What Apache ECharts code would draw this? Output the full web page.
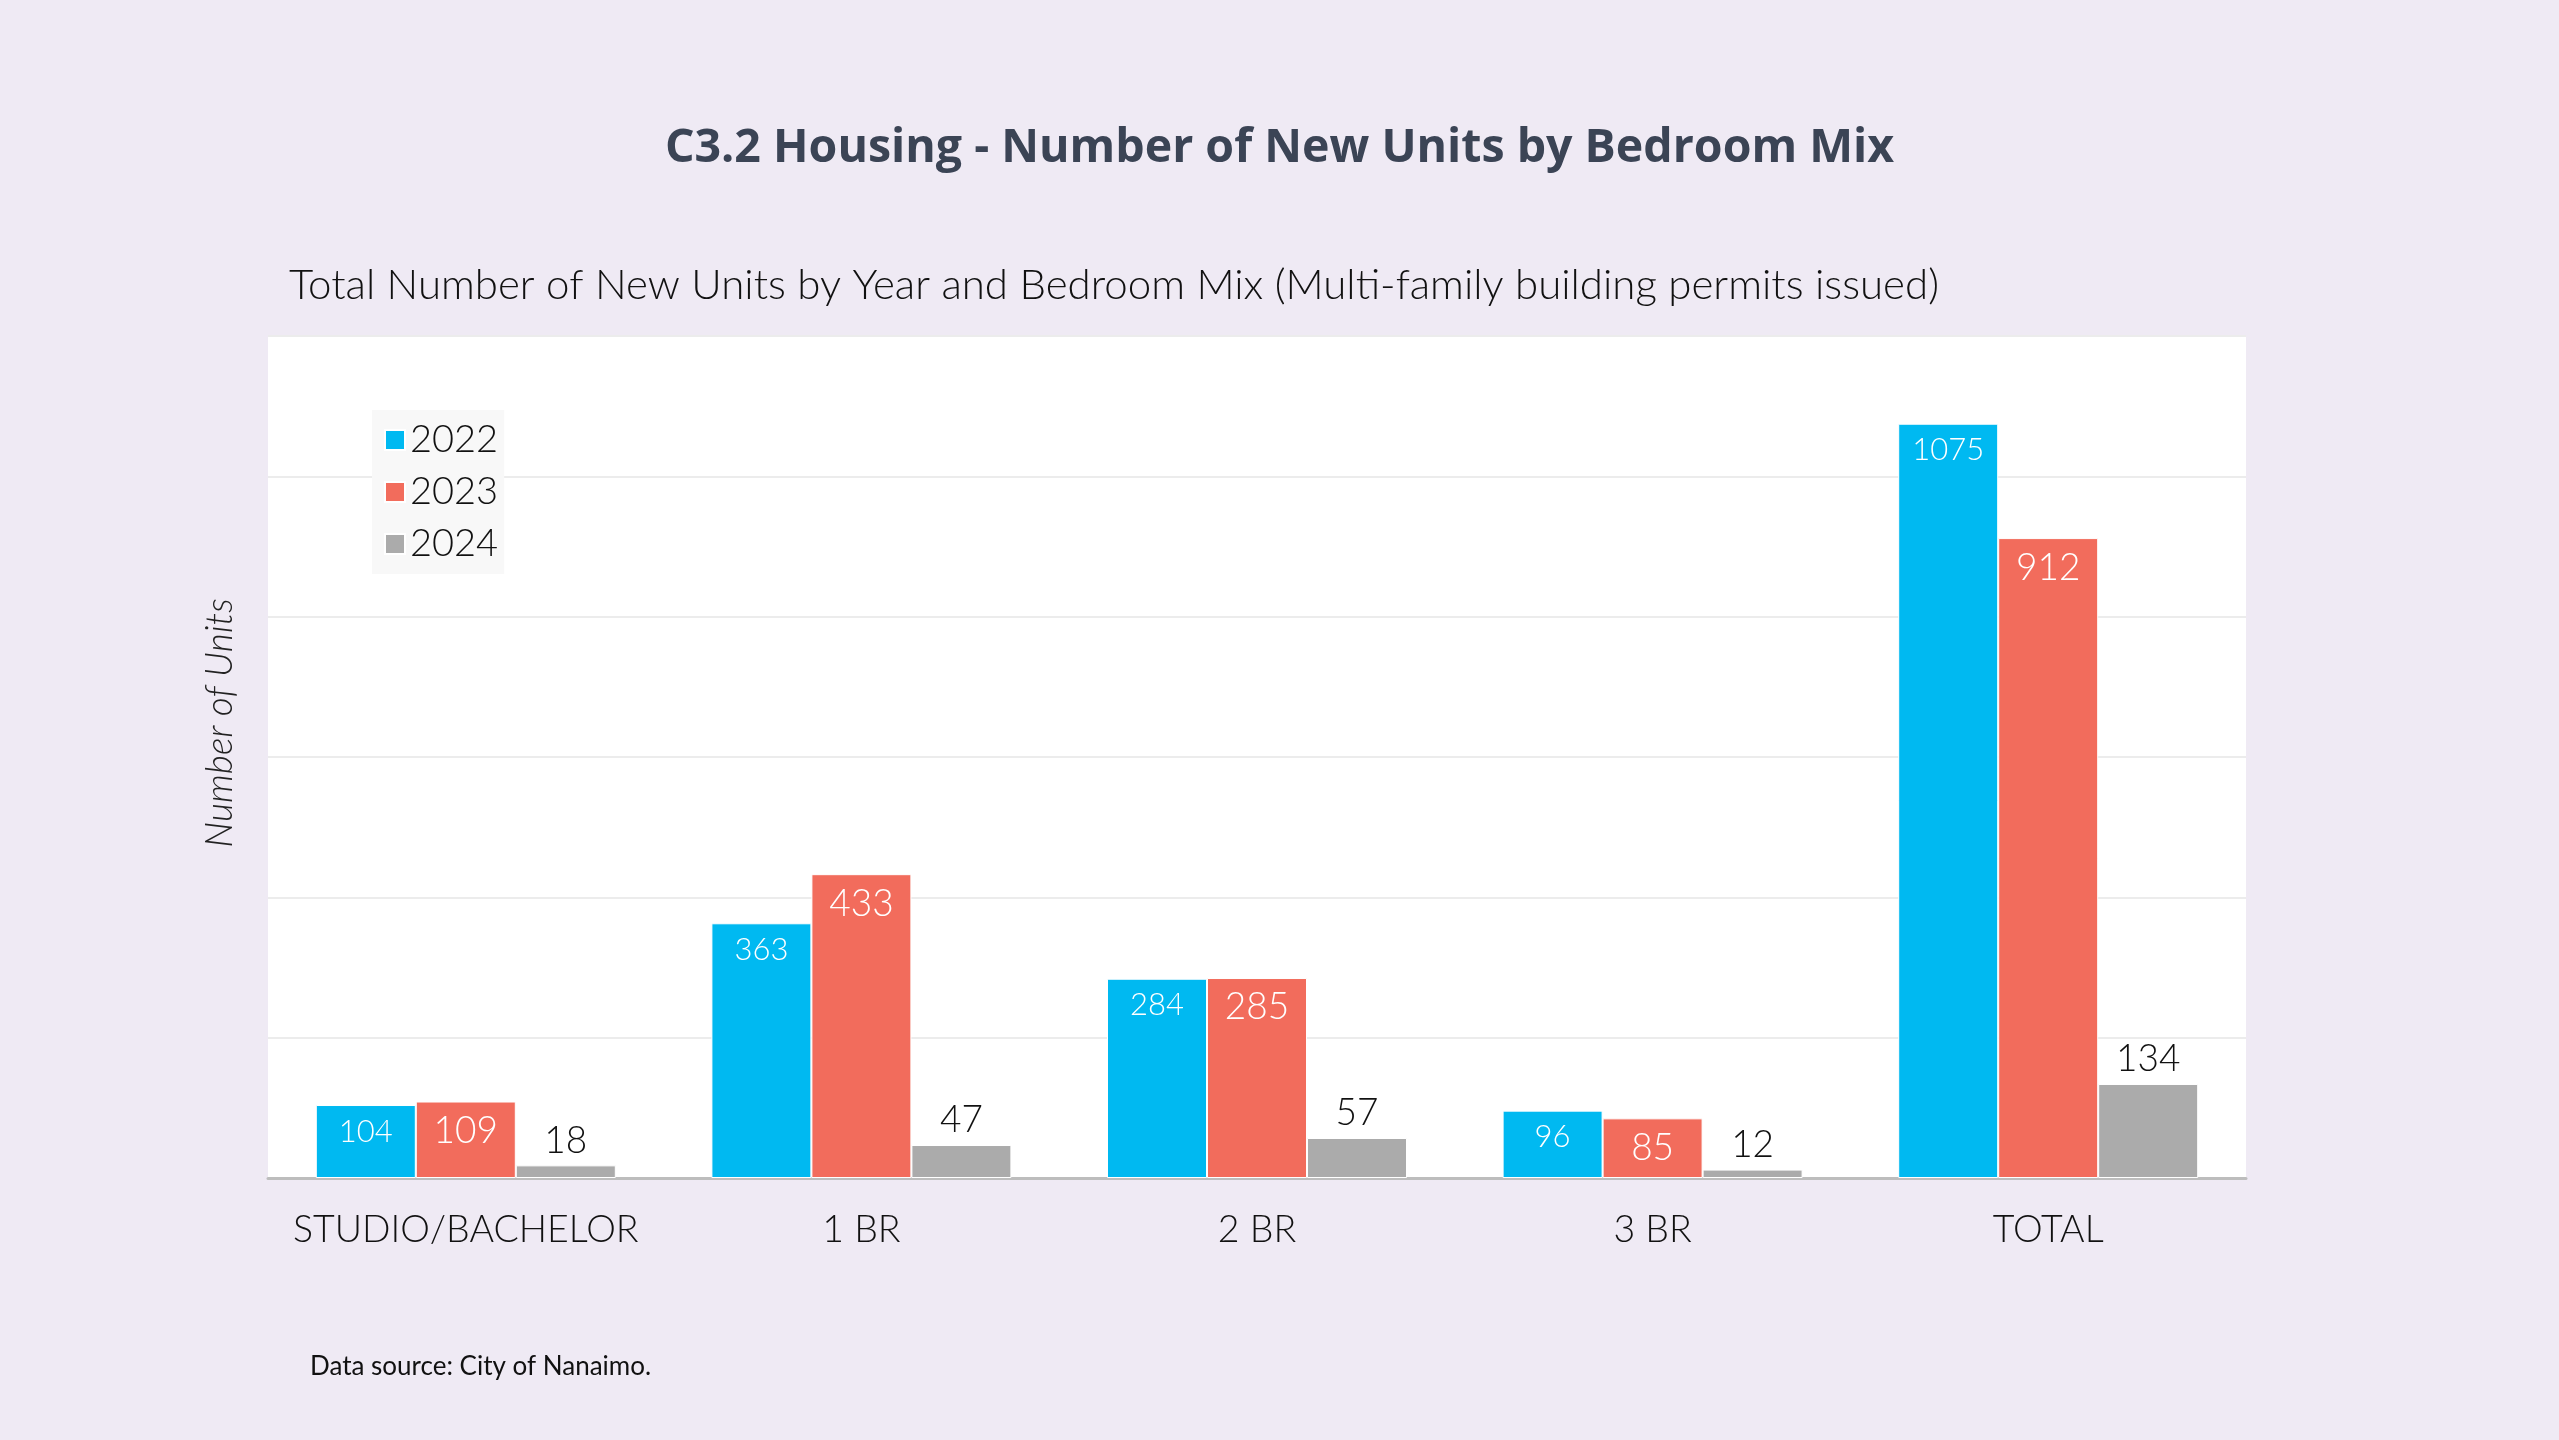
<!DOCTYPE html>
<html>
<head>
<meta charset="utf-8">
<script src="https://cdn.jsdelivr.net/npm/echarts@6/dist/echarts.min.js"></script>
<style>
html,body{margin:0;padding:0;background:#EFEAF4;}
#chart{width:2559px;height:1440px;}
</style>
</head>
<body>
<div id="chart"></div>
<script>
const categories = ['STUDIO/BACHELOR', '1 BR', '2 BR', '3 BR', 'TOTAL'];
const seriesNames = ['2022', '2023', '2024'];
const values2022 = [104, 363, 284, 96, 1075];
const values2023 = [109, 433, 285, 85, 912];
const values2024 = [18, 47, 57, 12, 134];
const colors = ['#00B9F1', '#F26C5C', '#ABABAB'];

const chart = echarts.init(document.getElementById('chart'));

function barSeries(name, data, color, labelCfg) {
  return {
    name: name,
    type: 'bar',
    data: data,
    barWidth: 100,
    barGap: '0%',
    itemStyle: { color: color, borderColor: '#ffffff', borderWidth: 1 },
    label: Object.assign({ show: true, fontFamily: 'Lato', fontWeight: 300 }, labelCfg)
  };
}

chart.setOption({
  backgroundColor: '#EFEAF4',
  title: [{
    text: 'C3.2 Housing - Number of New Units by Bedroom Mix',
    left: 'center',
    top: 120,
    textStyle: { fontFamily: 'Open Sans', fontWeight: 700, fontSize: 46.5, color: '#3B4455' }
  }, {
    text: 'Total Number of New Units by Year and Bedroom Mix (Multi-family building permits issued)',
    left: 284,
    top: 259,
    textStyle: { fontFamily: 'Lato', fontWeight: 300, fontSize: 42, color: '#111111' }
  }, {
    text: 'Data source: City of Nanaimo.',
    left: 305,
    top: 1349,
    textStyle: { fontFamily: 'Lato', fontWeight: 400, fontSize: 26, color: '#111111' }
  }],
  graphic: [{
    type: 'text',
    x: 220,
    y: 723,
    rotation: Math.PI / 2,
    style: {
      text: 'Number of Units',
      font: 'italic 300 37px Lato',
      fill: '#222222',
      textAlign: 'center',
      textVerticalAlign: 'middle'
    }
  }],
  legend: {
    orient: 'vertical',
    left: 372,
    top: 410,
    padding: [10, 6, 10, 12],
    backgroundColor: '#F8F8F8',
    itemWidth: 20,
    itemHeight: 20,
    itemGap: 12,
    itemTextGap: 14,
    icon: 'rect',
    data: seriesNames,
    textStyle: { fontFamily: 'Lato', fontWeight: 300, fontSize: 38, color: '#111111', lineHeight: 40 }
  },
  grid: {
    left: 268,
    right: 313,
    top: 336,
    bottom: 262,
    show: true,
    backgroundColor: '#ffffff',
    borderWidth: 0
  },
  xAxis: {
    type: 'category',
    data: categories,
    axisTick: { show: false },
    axisLine: { lineStyle: { color: '#BDBDBD', width: 3 } },
    axisLabel: { interval: 0, margin: 33, fontFamily: 'Lato', fontWeight: 300, fontSize: 37.5, color: '#111111' }
  },
  yAxis: {
    type: 'value',
    min: 0,
    max: 1200,
    interval: 200,
    axisLabel: { show: false },
    axisLine: { show: false },
    axisTick: { show: false },
    splitLine: { lineStyle: { color: '#ECECEC', width: 2 } }
  },
  series: [
    barSeries(seriesNames[0], values2022, colors[0], { position: 'insideTop', distance: 11, color: '#ffffff', fontSize: 31 }),
    barSeries(seriesNames[1], values2023, colors[1], { position: 'insideTop', distance: 11, color: '#ffffff', fontSize: 37 }),
    barSeries(seriesNames[2], values2024, colors[2], { position: 'top', distance: 6, color: '#111111', fontSize: 37 })
  ]
});
</script>
</body>
</html>
